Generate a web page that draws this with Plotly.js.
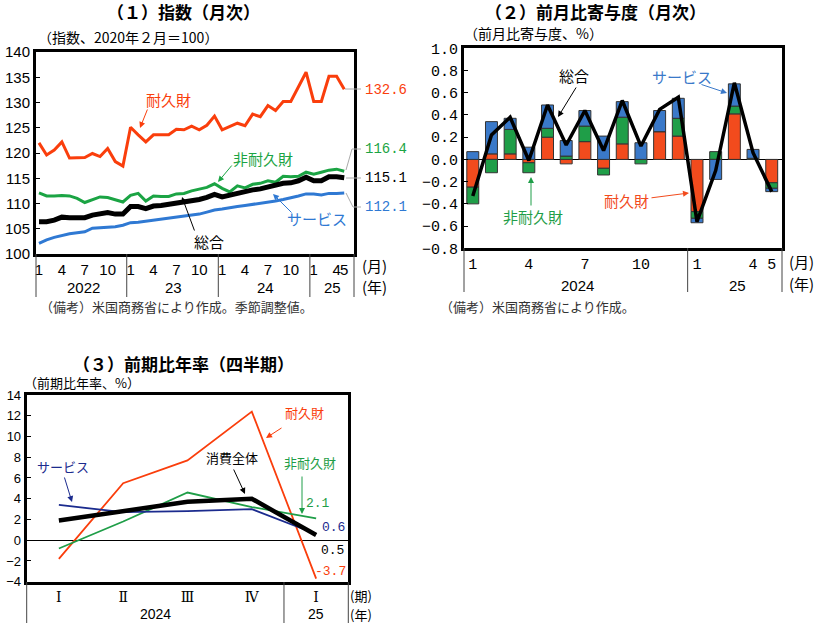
<!DOCTYPE html>
<html><head><meta charset="utf-8">
<script src="https://cdn.plot.ly/plotly-3.0.1.min.js"></script>
<style>html,body{margin:0;padding:0;background:#fff;}#chart{width:816px;height:623px;}</style>
</head><body><div id="chart"></div>
<script>
// ---------- (1) index, monthly ----------
const months1 = ['2022-01','2022-02','2022-03','2022-04','2022-05','2022-06','2022-07','2022-08','2022-09','2022-10','2022-11','2022-12',
 '2023-01','2023-02','2023-03','2023-04','2023-05','2023-06','2023-07','2023-08','2023-09','2023-10','2023-11','2023-12',
 '2024-01','2024-02','2024-03','2024-04','2024-05','2024-06','2024-07','2024-08','2024-09','2024-10','2024-11','2024-12',
 '2025-01','2025-02','2025-03','2025-04','2025-05'];
const durable1 = [122.0,119.6,120.6,122.2,119.0,119.1,119.1,119.9,119.3,120.9,118.3,117.4,
 125.1,123.6,122.2,123.6,123.6,123.6,124.7,124.6,125.3,124.6,125.5,127.3,
 124.6,125.3,125.9,125.4,127.7,127.2,129.4,128.4,130.2,130.2,133.1,136.0,
 130.2,130.2,135.2,135.2,132.6];
const nondurable1 = [112.1,111.5,111.5,111.6,111.5,111.0,110.2,110.7,111.3,111.2,110.7,110.3,
 111.6,112.0,110.5,111.5,111.4,111.4,111.9,112.0,112.5,112.9,113.2,113.9,
 113.0,112.3,113.5,113.1,113.8,114.0,114.5,114.2,115.4,115.3,115.4,116.2,
 115.8,116.2,116.6,116.8,116.4];
const total1 = [106.4,106.4,106.7,107.3,107.2,107.2,107.2,107.7,107.9,108.2,107.9,107.9,
 109.4,109.4,109.0,109.5,109.6,109.8,110.2,110.4,110.6,110.8,111.2,111.8,
 111.3,111.7,112.1,112.3,112.7,112.9,113.3,113.5,114.0,114.1,114.5,115.2,
 114.5,114.5,115.3,115.3,115.1];
const services1 = [102.1,102.8,103.3,103.7,104.0,104.2,104.4,105.1,105.2,105.3,105.4,105.7,
 106.2,106.3,106.5,106.7,106.9,107.1,107.3,107.4,107.6,107.9,108.3,108.7,
 108.9,109.2,109.4,109.6,109.8,110.0,110.2,110.5,110.8,111.1,111.5,111.9,
 111.9,111.7,112.0,112.0,112.1];
const tickVals1 = ['2022-01','2022-04','2022-07','2022-10','2023-01','2023-04','2023-07','2023-10',
 '2024-01','2024-04','2024-07','2024-10','2025-01','2025-04','2025-05'];
const tickText1 = ['1','4','7','10','1','4','7','10','1','4','7','10','1','4','5'];
const years1 = ['2022','23','24','25'];
const lastLabels1 = ['132.6','116.4','115.1','112.1'];

// ---------- (2) contribution, monthly ----------
const months2 = ['2024-01','2024-02','2024-03','2024-04','2024-05','2024-06','2024-07','2024-08','2024-09','2024-10','2024-11','2024-12',
 '2025-01','2025-02','2025-03','2025-04','2025-05'];
const durable2 =    [-0.25, 0.05, 0.05,-0.03, 0.20,-0.04, 0.16,-0.08, 0.14, 0.00, 0.25, 0.21,-0.47, 0.00, 0.41, 0.00,-0.21];
const nondurable2 = [-0.15,-0.12, 0.22,-0.09, 0.08, 0.03, 0.14,-0.06, 0.24,-0.04, 0.00, 0.16,-0.06, 0.07, 0.07, 0.01,-0.05];
const services2 =   [ 0.07, 0.29, 0.10, 0.11, 0.21, 0.14, 0.14, 0.21, 0.14, 0.15, 0.19, 0.18,-0.04,-0.18, 0.20, 0.08,-0.03];
const total2 =      [-0.33, 0.22, 0.38,-0.01, 0.49, 0.13, 0.44, 0.08, 0.53, 0.12, 0.45, 0.56,-0.56,-0.10, 0.69, 0.06,-0.29];
const tickVals2 = ['2024-01','2024-04','2024-07','2024-10','2025-01','2025-04','2025-05'];
const tickText2 = ['1','4','7','10','1','4','5'];
const years2 = ['2024','25'];

// ---------- (3) annualized q/q ----------
const quarters3 = ['2024Q1','2024Q2','2024Q3','2024Q4','2025Q1'];
const quarterText3 = ['Ⅰ','Ⅱ','Ⅲ','Ⅳ','Ⅰ'];
const durable3 =    [-1.8, 5.5, 7.7, 12.4, -3.7];
const nondurable3 = [-0.8, 1.8, 4.6, 3.2, 2.1];
const services3 =   [ 3.4, 2.7, 2.8, 3.0, 0.6];
const total3 =      [ 1.9, 2.8, 3.7, 4.0, 0.5];
const years3 = ['2024','25'];

// ---------- styling ----------
const RED='#fa3e0c', GREEN='#1ba444', BLUE='#2f79d3', NAVY='#1b2b8e', BLACK='#000';
const BRED='#f24b1d', BGREEN='#1f9e48', BBLUE='#3a79c9';
const JP='Noto Sans CJK JP', SANS='Liberation Sans', MONO='Liberation Mono';
const W=816, H=623;
const P = px => px/W;
const Q = py => 1 - py/H;

const traces = [
 {x:months1, y:services1, type:'scatter', mode:'lines', line:{color:BLUE, width:3}, xaxis:'x', yaxis:'y'},
 {x:months1, y:nondurable1, type:'scatter', mode:'lines', line:{color:GREEN, width:3}, xaxis:'x', yaxis:'y'},
 {x:months1, y:durable1, type:'scatter', mode:'lines', line:{color:RED, width:3}, xaxis:'x', yaxis:'y'},
 {x:months1, y:total1, type:'scatter', mode:'lines', line:{color:BLACK, width:5}, xaxis:'x', yaxis:'y'},

 {x:months2, y:durable2, type:'bar', width:0.64, marker:{color:BRED, line:{color:'#333', width:1}}, xaxis:'x2', yaxis:'y2'},
 {x:months2, y:nondurable2, type:'bar', width:0.64, marker:{color:BGREEN, line:{color:'#333', width:1}}, xaxis:'x2', yaxis:'y2'},
 {x:months2, y:services2, type:'bar', width:0.64, marker:{color:BBLUE, line:{color:'#333', width:1}}, xaxis:'x2', yaxis:'y2'},
 {x:months2, y:total2, type:'scatter', mode:'lines', line:{color:BLACK, width:3.5}, xaxis:'x2', yaxis:'y2'},

 {x:quarters3, y:durable3, type:'scatter', mode:'lines', line:{color:RED, width:1.8}, xaxis:'x3', yaxis:'y3'},
 {x:quarters3, y:nondurable3, type:'scatter', mode:'lines', line:{color:BGREEN, width:1.8}, xaxis:'x3', yaxis:'y3'},
 {x:quarters3, y:services3, type:'scatter', mode:'lines', line:{color:NAVY, width:1.8}, xaxis:'x3', yaxis:'y3'},
 {x:quarters3, y:total3, type:'scatter', mode:'lines', line:{color:BLACK, width:4.5}, xaxis:'x3', yaxis:'y3'}
];

const frame = {showline:true, mirror:true, linewidth:3, linecolor:'#000', showgrid:false, zeroline:false};

function txt(t,x,y,color,size,family,anchor){
 return {text:t, x:P(x), y:Q(y), xref:'paper', yref:'paper', showarrow:false,
  xanchor:anchor||'center', yanchor:'middle', font:{color:color||'#000', size:size||15, family:family||JP}};
}
function arr(tx,ty,hx,hy,color){
 return {text:'', x:P(hx), y:Q(hy), xref:'paper', yref:'paper', showarrow:true,
  ax:tx-hx, ay:ty-hy, axref:'pixel', ayref:'pixel', arrowhead:2, arrowsize:1.2, arrowwidth:1, arrowcolor:color};
}
function vline(xref,x,y0,y1){
 return {type:'line', xref:xref, yref:'paper', x0:x, x1:x, y0:Q(y0), y1:Q(y1), line:{color:'#444', width:1}};
}
function pathPx(pts,color){
 let d = pts.map((p,i)=>(i?'L':'M')+P(p[0])+','+Q(p[1])).join(' ');
 return {type:'path', xref:'paper', yref:'paper', path:d, line:{color:color, width:1}};
}

const annotations = [
 // titles
 txt('<b>（１）指数（月次）</b>',183,12,'#000',17),
 txt('<b>（２）前月比寄与度（月次）</b>',595,12,'#000',17),
 txt('<b>（３）前期比年率（四半期）</b>',183,363,'#000',17),
 txt('（指数、2020年２月＝100）',36,37,'#000',14,JP,'left'),
 txt('（前月比寄与度、%）',462,33,'#000',14,JP,'left'),
 txt('（前期比年率、%）',22,382,'#000',13,JP,'left'),
 txt('（備考）米国商務省により作成。季節調整値。',38,306,'#333',13,JP,'left'),
 txt('（備考）米国商務省により作成。',438,306,'#333',13,JP,'left'),

 // chart 1 year labels and units
 txt(years1[0],83,287,'#000',15,SANS),
 txt(years1[1],173,287,'#000',15,SANS),
 txt(years1[2],265,287,'#000',15,SANS),
 txt(years1[3],332,287,'#000',15,SANS),
 txt('(月)',374,265,'#000',15),
 txt('(年)',374,286,'#000',15),
 // chart 1 series labels
 txt('耐久財',168,99,RED,15), arr(148,108,140,128,RED),
 txt('非耐久財',263,158,GREEN,15), arr(233,164,218,182,GREEN),
 txt('総合',209,241,'#000',15), arr(195,232,182,197,'#000'),
 txt('サービス',317,219,BLUE,15), arr(293,214,273,194,BLUE),
 txt(lastLabels1[0],363,90,RED,14,MONO,'left'),
 txt(lastLabels1[1],363,149,GREEN,14,MONO,'left'),
 txt(lastLabels1[2],363,178,'#000',14,MONO,'left'),
 txt(lastLabels1[3],363,207,BLUE,14,MONO,'left'),

 // chart 2
 txt(years2[0],577,285,'#000',15,SANS),
 txt(years2[1],737,285,'#000',15,SANS),
 txt('(月)',801,261,'#000',15),
 txt('(年)',801,283,'#000',15),
 txt('総合',574,75,'#000',15), arr(577,86,558,117,'#000'),
 txt('サービス',682,77,BBLUE,15), arr(700,84,727,93,BBLUE),
 txt('非耐久財',533,217,BGREEN,15), arr(531,207,531,177,BGREEN),
 txt('耐久財',626,201,BRED,15), arr(650,198,689,193,BRED),

 // chart 3
 txt(years3[0],155,614,'#000',14,SANS),
 txt(years3[1],316,614,'#000',14,SANS),
 txt('(期)',361,595,'#000',13),
 txt('(年)',361,614,'#000',13),
 txt('耐久財',304,413,RED,13), arr(283,427,266,438,RED),
 txt('サービス',63,466,NAVY,13), arr(64,476,72,502,NAVY),
 txt('消費全体',232,457,'#000',13), arr(233,468,245,494,'#000'),
 txt('非耐久財',310,462,BGREEN,13), arr(302,475,302,514,BGREEN),
 txt('2.1',318,503,BGREEN,13,MONO),
 txt('0.6',333,527,NAVY,13,MONO),
 txt('0.5',332,550,'#000',13,MONO),
 txt('-3.7',330,571,RED,13,MONO)
];

const shapes = [
 // chart 1 separators
 vline('x domain',0,254,297), vline('x domain',1,254,297),
 vline('x',11.5,254,297), vline('x',23.5,254,297), vline('x',35.5,254,297),
 // chart 2 separators
 vline('x2 domain',0,248,292), vline('x2 domain',1,248,292), vline('x2',11.5,248,292),
 // chart 3 separators
 vline('x3 domain',0,582,623), vline('x3 domain',1,582,623), vline('x3',3.5,582,623),
 // leader lines chart 1
 pathPx([[345,89],[361,89]],'#aaa'),
 pathPx([[346,170],[352,149],[361,149]],'#aaa'),
 pathPx([[346,178],[361,178]],'#aaa'),
 pathPx([[346,193],[353,207],[361,207]],'#aaa')
];

const layout = {
 width:W, height:H, margin:{l:0,r:0,t:0,b:0}, paper_bgcolor:'#fff', plot_bgcolor:'#fff',
 showlegend:false, barmode:'relative', font:{family:JP, color:'#000'},
 xaxis:Object.assign({}, frame, {domain:[P(36),P(354)], range:[-0.39,41.28], type:'category',
   tickmode:'array', tickvals:tickVals1, ticktext:tickText1, ticks:'', tickangle:0, tickfont:{family:SANS,size:15}, anchor:'y'}),
 yaxis:Object.assign({}, frame, {domain:[Q(254),Q(52)], range:[100,140], tickmode:'linear', tick0:100, dtick:5,
   ticks:'inside', ticklen:4, tickcolor:'#000', tickfont:{family:SANS,size:15}, anchor:'x'}),
 xaxis2:Object.assign({}, frame, {domain:[P(464),P(782)], range:[-0.47,16.55], type:'category',
   tickmode:'array', tickvals:tickVals2, ticktext:tickText2, ticks:'', tickangle:0, tickfont:{family:MONO,size:15}, anchor:'y2'}),
 yaxis2:Object.assign({}, frame, {domain:[Q(248.3),Q(48.3)], range:[-0.8,1.0], tickmode:'linear', tick0:-0.8, dtick:0.2,
   tickformat:'.1f', ticks:'inside', ticklen:4, tickcolor:'#000', tickfont:{family:MONO,size:15},
   zeroline:true, zerolinecolor:'#000', zerolinewidth:1, anchor:'x2'}),
 xaxis3:Object.assign({}, frame, {domain:[P(26.7),P(348.3)], range:[-0.5,4.5], type:'category',
   tickmode:'array', tickvals:quarters3, ticktext:quarterText3, ticks:'', tickangle:0, tickfont:{family:'DejaVu Serif',size:14}, anchor:'y3'}),
 yaxis3:Object.assign({}, frame, {domain:[Q(581.7),Q(395)], range:[-4,14], tickmode:'linear', tick0:-4, dtick:2,
   ticks:'inside', ticklen:4, tickcolor:'#000', tickfont:{family:SANS,size:13},
   zeroline:true, zerolinecolor:'#000', zerolinewidth:1, anchor:'x3'}),
 annotations:annotations, shapes:shapes
};

Plotly.newPlot('chart', traces, layout, {staticPlot:true, displayModeBar:false});
</script></body></html>
